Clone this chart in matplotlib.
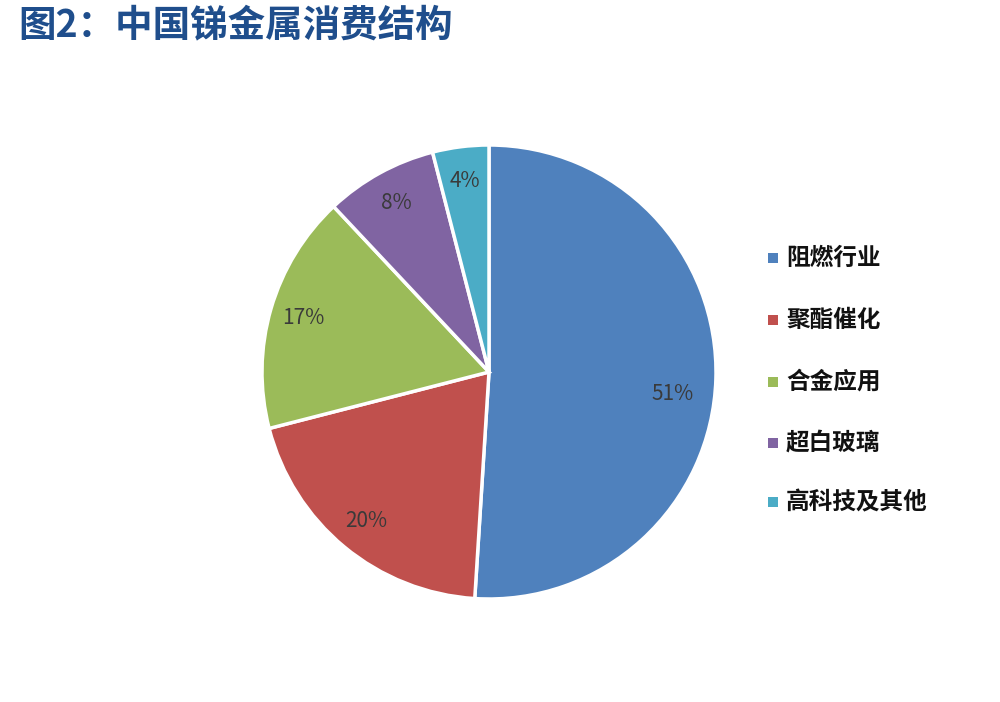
import matplotlib
matplotlib.use("Agg")
import matplotlib.pyplot as plt
from matplotlib.patches import Rectangle

plt.rcParams['font.family'] = ['Noto Sans CJK SC', 'DejaVu Sans']

categories = ['阻燃行业', '聚酯催化', '合金应用', '超白玻璃', '高科技及其他']
values = [51, 20, 17, 8, 4]
colors = ['#4f81bd', '#c0504d', '#9bbb59', '#8064a2', '#4bacc6']
title = '图2：中国锑金属消费结构'

W, H = 1000, 702
fig = plt.figure(figsize=(W/100, H/100), dpi=100)
fig.patch.set_facecolor('white')

cx, cy, r = 489, 372, 227
ax = fig.add_axes([(cx - r)/W, 1 - (cy + r)/H, 2*r/W, 2*r/H])
wedges, texts, autotexts = ax.pie(
    values, colors=colors, startangle=90, counterclock=False,
    autopct=lambda p: f'{p:.0f}%', pctdistance=0.85,
    wedgeprops=dict(edgecolor='white', linewidth=2.5),
    textprops=dict(fontsize=15, color='#3a3a3a', fontweight='medium'))
ax.set_xlim(-1, 1)
ax.set_ylim(-1, 1)
ax.set_aspect('equal')
# shift the 51% label as in the reference
x0, y0 = autotexts[0].get_position()
autotexts[0].set_position((x0 - 0.04, y0 - 0.07))

fig.text(18/W, 1 - 25/H, title, fontsize=27, fontweight='bold', color='#1f4e8c',
         ha='left', va='center')

leg_y = [258, 320, 382, 443, 502]
for lab, col, y in zip(categories, colors, leg_y):
    fig.patches.append(Rectangle(((768)/W, 1 - (y + 5)/H), 10/W, 10/H,
                                 transform=fig.transFigure, facecolor=col, edgecolor='none'))
    fig.text(786/W, 1 - y/H, lab, fontsize=17, fontweight='bold', color='#111111',
             ha='left', va='center')

fig.savefig('out.png', dpi=100)
